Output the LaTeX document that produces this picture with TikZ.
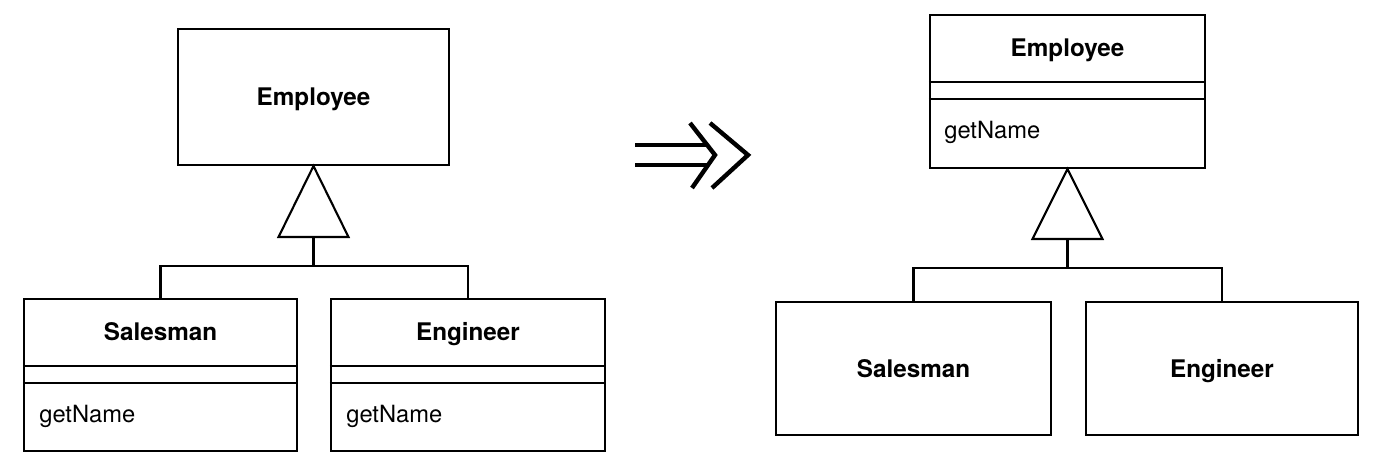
\documentclass[tikz,border=0pt]{standalone}
\usepackage{fontspec}
\setmainfont{TeX Gyre Heros}
\usetikzlibrary{calc}

\begin{document}
\begin{tikzpicture}[
  x=0.02cm, y=-0.02cm,
  cls/.style={draw, line width=1.2pt, inner sep=0pt},
  cname/.style={font=\fontsize{13.8}{16}\selectfont\bfseries, text height=11pt, text depth=1pt},
  cop/.style={font=\fontsize{13.5}{16}\selectfont, anchor=west, inner sep=0pt},
  link/.style={line width=1.2pt, line join=miter},
  refactor/.style={line width=2.5pt, line join=miter}
]
  \useasboundingbox (0,0) rectangle (1383,464);

  % Before: getName in each subclass
  \node[cls, minimum width=5.42cm, minimum height=2.72cm] (emp1) at (313.5,97) {};
  \node[cname] (emp1name) at (emp1.center) {Employee};

  \node[cls, minimum width=5.46cm, minimum height=3.04cm] (sales1) at (160.5,375) {};
  \node[cname] (sales1name) at ($(sales1.north)+(0,34)$) {Salesman};
  \draw[link] ($(sales1.north west)+(0,68)$) -- ($(sales1.north east)+(0,68)$);
  \draw[link] ($(sales1.north west)+(0,85)$) -- ($(sales1.north east)+(0,85)$);
  \node[cop] (sales1op) at ($(sales1.north west)+(16,118)$) {getName};

  \node[cls, minimum width=5.48cm, minimum height=3.04cm] (eng1) at (468,375) {};
  \node[cname] (eng1name) at ($(eng1.north)+(0,34)$) {Engineer};
  \draw[link] ($(eng1.north west)+(0,68)$) -- ($(eng1.north east)+(0,68)$);
  \draw[link] ($(eng1.north west)+(0,85)$) -- ($(eng1.north east)+(0,85)$);
  \node[cop] (eng1op) at ($(eng1.north west)+(16,118)$) {getName};

  % Generalization
  \draw[link] (emp1.south) -- ($(emp1.south)+(35,71)$) -- ($(emp1.south)+(-35,71)$) -- cycle;
  \coordinate (base1) at ($(emp1.south)+(0,71)$);
  \coordinate (bar1) at ($(base1)+(0,29)$);
  \draw[link] (base1) -- (bar1);
  \draw[link] (sales1.north) |- (bar1) -| (eng1.north);

  % Refactoring arrow
  \draw[refactor] (635,145) -- (708,145);
  \draw[refactor] (635,165) -- (708,165);
  \draw[refactor] (690,123) -- (715,155) -- (692,188);
  \draw[refactor] (710,123) -- (748,155) -- (712,188);

  % After: getName pulled up
  \node[cls, minimum width=5.5cm, minimum height=3.06cm] (emp2) at (1067.5,91.5) {};
  \node[cname] (emp2name) at ($(emp2.north)+(0,34)$) {Employee};
  \draw[link] ($(emp2.north west)+(0,68)$) -- ($(emp2.north east)+(0,68)$);
  \draw[link] ($(emp2.north west)+(0,85)$) -- ($(emp2.north east)+(0,85)$);
  \node[cop] (emp2op) at ($(emp2.north west)+(15,118)$) {getName};

  \node[cls, minimum width=5.5cm, minimum height=2.66cm] (sales2) at (913.5,368.5) {};
  \node[cname] (sales2name) at (sales2.center) {Salesman};

  \node[cls, minimum width=5.44cm, minimum height=2.66cm] (eng2) at (1222,368.5) {};
  \node[cname] (eng2name) at (eng2.center) {Engineer};

  \draw[link] (emp2.south) -- ($(emp2.south)+(35,70)$) -- ($(emp2.south)+(-35,70)$) -- cycle;
  \coordinate (base2) at ($(emp2.south)+(0,70)$);
  \coordinate (bar2) at ($(base2)+(0,29)$);
  \draw[link] (base2) -- (bar2);
  \draw[link] (sales2.north) |- (bar2) -| (eng2.north);
\end{tikzpicture}
\end{document}
